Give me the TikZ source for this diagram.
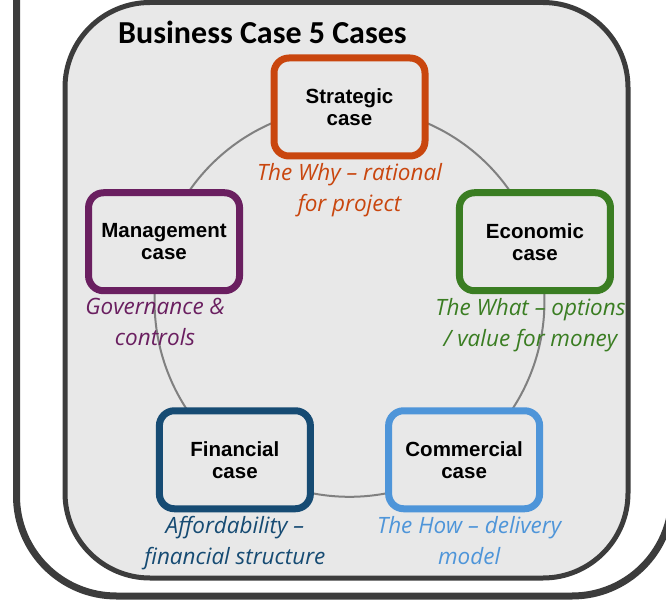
\documentclass[tikz,border=0pt]{standalone}
\usepackage{fontspec}
\setmainfont{Liberation Sans}
\newfontfamily\titlefont{Carlito}
\newfontfamily\notefont{Open Sans}
\usetikzlibrary{positioning,calc,backgrounds}
\definecolor{framecol}{RGB}{60,60,60}
\definecolor{panelcol}{RGB}{232,232,232}
\definecolor{ringcol}{RGB}{128,128,128}
\definecolor{stratcol}{RGB}{201,70,14}
\definecolor{econcol}{RGB}{58,125,34}
\definecolor{commcol}{RGB}{78,149,217}
\definecolor{fincol}{RGB}{22,75,115}
\definecolor{mgmtcol}{RGB}{106,31,96}
\tikzset{
  casebox/.style={draw=#1,line width=7pt,rounded corners=15pt,fill=panelcol,
    minimum width=151pt,minimum height=98pt,inner sep=0pt,align=center,
    font=\bfseries\fontsize{20.5}{22}\selectfont},
  note/.style={text=#1,inner sep=0pt,align=center,
    font=\notefont\itshape\fontsize{22.5}{31}\selectfont},
  ring/.style={draw=ringcol,line width=2pt,bend left=36,looseness=0.94},
  frame/.style={draw=framecol}
}

\begin{document}
\begin{tikzpicture}[x=1pt,y=1pt]
    \useasboundingbox (0,0) rectangle (666,606);
    \coordinate (hub) at (349.5,304);

    \node[casebox=stratcol] (strat) at ($(hub)+(90:195)$) {Strategic\\case};
    \node[casebox=econcol] (econ) at ($(hub)+(18:195)$) {Economic\\case};
    \node[casebox=commcol] (comm) at ($(hub)+(-54:195)$) {Commercial\\case};
    \node[casebox=fincol] (fin) at ($(hub)+(-126:195)$) {Financial\\case};
    \node[casebox=mgmtcol] (mgmt) at ($(hub)+(162:195)$) {Management\\case};

    \node[note=stratcol,below=4pt of strat] (stratnote) {The Why – rational\\for project};
    \node[note=econcol,below=4pt of econ,xshift=-4.5pt] (econnote) {The What – options\\/ value for money};
    \node[note=commcol,below=4pt of comm,xshift=5pt] (commnote) {The How – delivery\\model};
    \node[note=fincol,below=4pt of fin] (finnote) {Affordability –\\financial structure};
    \node[note=mgmtcol,below=4pt of mgmt,xshift=-9pt] (mgmtnote) {Governance \&\\controls};

    \node[anchor=base west,inner sep=0pt,font=\titlefont\bfseries\fontsize{32}{36}\selectfont]
      (heading) at (118,562) {Business Case 5 Cases};

    \begin{scope}[on background layer]
      \draw[frame,line width=7pt,rounded corners=100pt] (16.5,720) rectangle (672,10);
      \draw[frame,fill=panelcol,line width=5pt,rounded corners=85pt] (65,28) rectangle (628,603.5);
      \draw[ring] (strat.center) to (econ.center);
      \draw[ring] (econ.center) to (comm.center);
      \draw[ring] (comm.center) to (fin.center);
      \draw[ring] (fin.center) to (mgmt.center);
      \draw[ring] (mgmt.center) to (strat.center);
    \end{scope}
\end{tikzpicture}
\end{document}
